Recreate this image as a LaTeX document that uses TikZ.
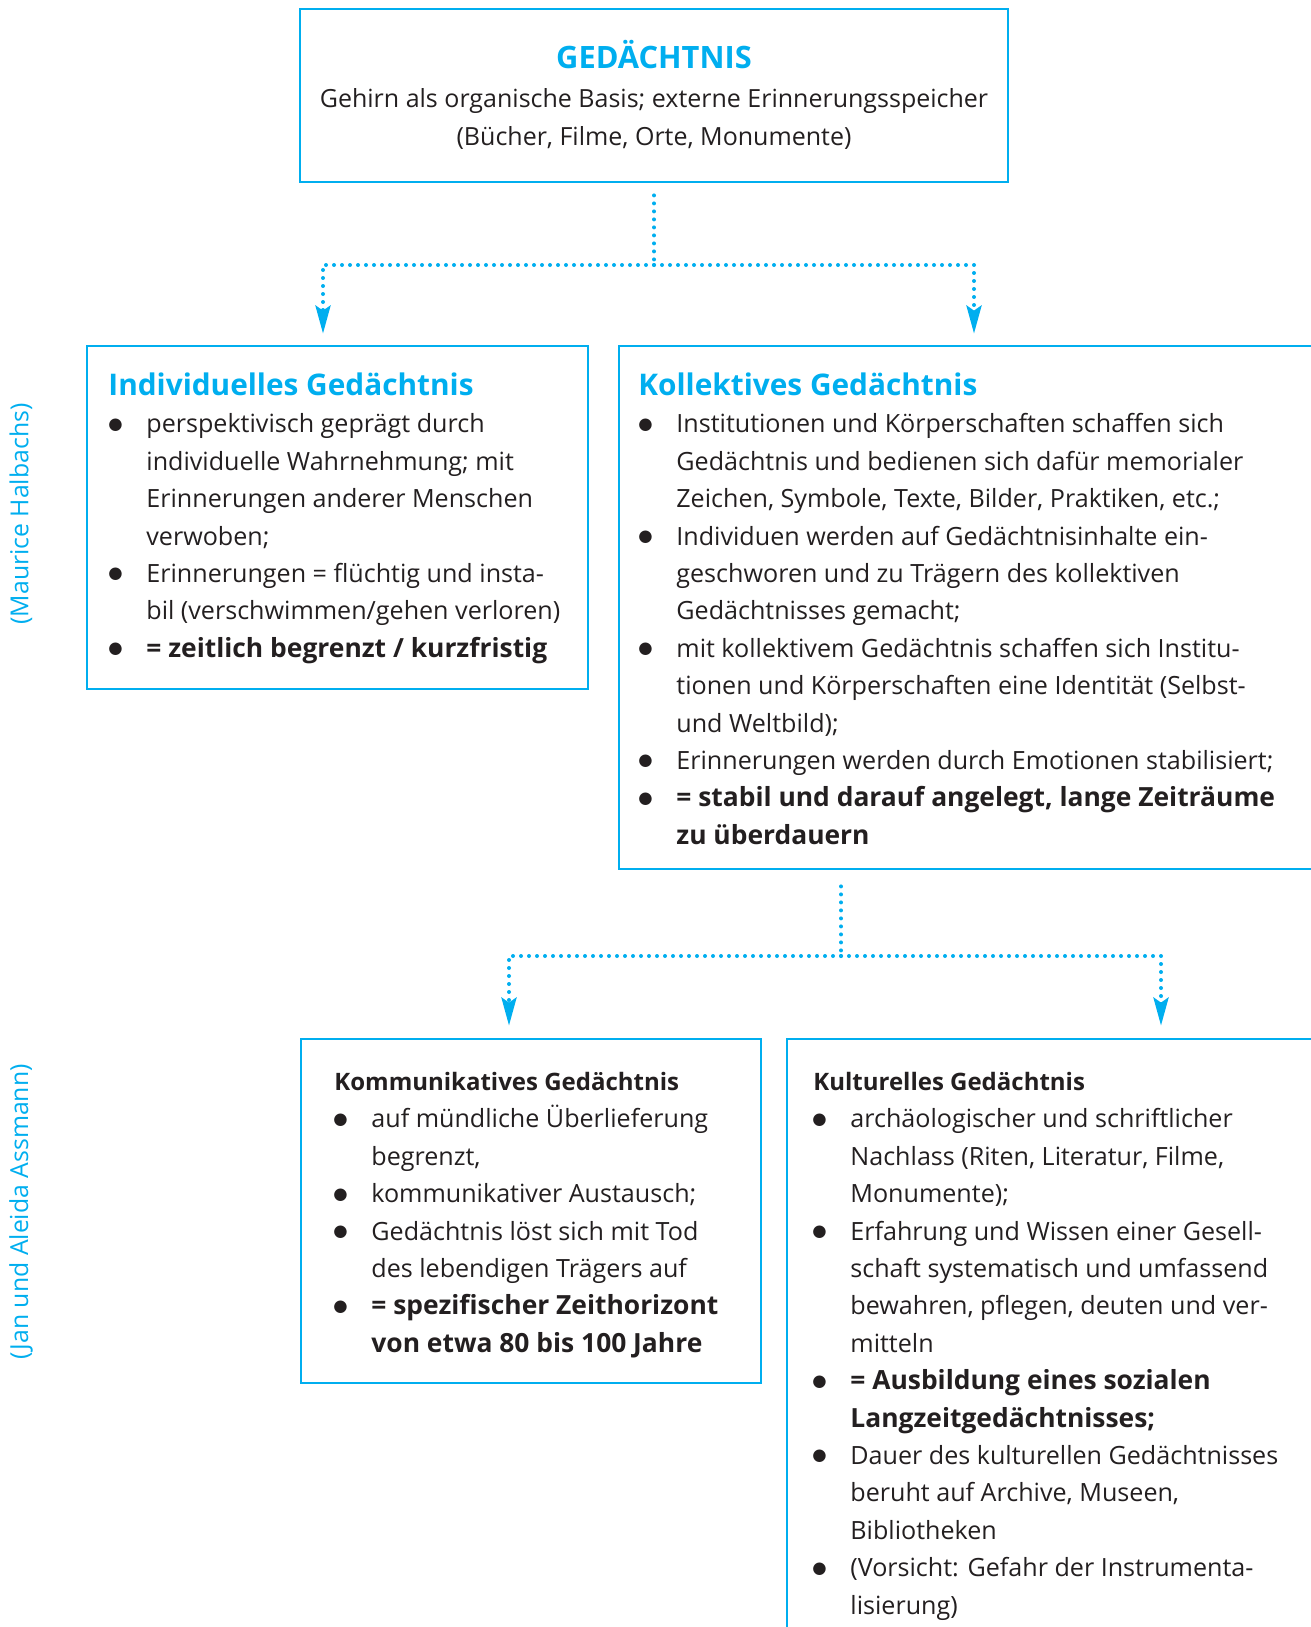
\documentclass[tikz,border=0pt]{standalone}
\usepackage{fontspec}
\setmainfont{Open Sans}
\newfontfamily\dotfont{DejaVu Sans}
\usepackage{array}
\usetikzlibrary{arrows.meta,fit}

\definecolor{gblue}{RGB}{0,174,239}
\definecolor{ink}{RGB}{35,31,32}

\newcommand{\bul}{\hspace*{-4pt}\raisebox{1.8pt}{\dotfont\fontsize{8.2pt}{8.2pt}\selectfont ●}}
\newcommand{\bld}[1]{{\bfseries\fontsize{13.2pt}{18.7pt}\selectfont #1}}
\newcommand{\bluehead}[1]{\multicolumn{2}{@{}l@{}}{\hspace*{-4pt}\color{gblue}\bfseries\fontsize{14.9pt}{18.7pt}\selectfont #1}}
\newcommand{\inkhead}[1]{\multicolumn{2}{@{}l@{}}{\hspace*{-3.5pt}\bfseries\fontsize{12pt}{18.7pt}\selectfont #1}}
\newenvironment{plist}{\begin{tabular}{@{}p{15pt}@{}l@{}}}{\end{tabular}}

\tikzset{
  box/.style={draw=gblue, line width=1.4pt, inner sep=0pt},
  dotline/.style={gblue, line width=2pt, line cap=round, dash pattern=on 0pt off 4pt},
  headarrow/.style={-{Stealth[length=14pt,width=7.5pt,inset=2.5pt]}},
  body/.style={anchor=north west, inner sep=0pt, text=ink, font=\fontsize{12.55pt}{18.7pt}\selectfont},
  side/.style={rotate=90, text=gblue, font=\fontsize{12.4pt}{14pt}\selectfont},
}

\begin{document}
\begin{tikzpicture}[x=0.5pt, y=-0.5pt]
  \useasboundingbox (0,0) rectangle (1311,1627);
  \clip (0,0) rectangle (1311,1627);

  % boxes
  \node[box, fit={(300,9) (1008,182)}] (gedaechtnis) {};
  \node[box, fit={(87,346) (588,689)}] (individuell) {};
  \node[box, fit={(619,346) (1340,869)}] (kollektiv) {};
  \node[box, fit={(301,1039) (761,1383)}] (kommunikativ) {};
  \node[box, fit={(787,1039) (1340,1660)}] (kulturell) {};

  % side labels
  \node[side] (halbwachs) at (21,514) {(Maurice Halbachs)};
  \node[side] (assmann) at (21,1212) {(Jan und Aleida Assmann)};

  % Box 1
  \node[align=center, inner sep=0pt, text=ink, font=\fontsize{12.5pt}{19.25pt}\selectfont] (t1) at (654,95)
    {{\color{gblue}\bfseries\fontsize{15.4pt}{19.25pt}\selectfont GEDÄCHTNIS}\\
     Gehirn als organische Basis; externe Erinnerungsspeicher\\
     (Bücher, Filme, Orte, Monumente)};

  % Box 2
  \node[body] (t2) at (116,369) {\begin{plist}
    \bluehead{Individuelles Gedächtnis}\\
    \bul & perspektivisch geprägt durch\\
         & individuelle Wahrnehmung; mit\\
         & Erinnerungen anderer Menschen\\
         & verwoben;\\
    \bul & Erinnerungen = flüchtig und insta-\\
         & bil (verschwimmen/gehen verloren)\\
    \bul & \bld{= zeitlich begrenzt / kurzfristig}\\
  \end{plist}};

  % Box 3
  \node[body] (t3) at (646,369) {\begin{plist}
    \bluehead{Kollektives Gedächtnis}\\
    \bul & Institutionen und Körperschaften schaffen sich\\
         & Gedächtnis und bedienen sich dafür memorialer\\
         & Zeichen, Symbole, Texte, Bilder, Praktiken, etc.;\\
    \bul & Individuen werden auf Gedächtnisinhalte ein-\\
         & geschworen und zu Trägern des kollektiven\\
         & Gedächtnisses gemacht;\\
    \bul & mit kollektivem Gedächtnis schaffen sich Institu-\\
         & tionen und Körperschaften eine Identität (Selbst-\\
         & und Weltbild);\\
    \bul & Erinnerungen werden durch Emotionen stabilisiert;\\
    \bul & \bld{= stabil und darauf angelegt, lange Zeiträume}\\
         & \bld{zu überdauern}\\
  \end{plist}};

  % Box 4
  \node[body] (t4) at (341,1064) {\begin{plist}
    \inkhead{Kommunikatives Gedächtnis}\\
    \bul & auf mündliche Überlieferung\\
         & begrenzt,\\
    \bul & kommunikativer Austausch;\\
    \bul & Gedächtnis löst sich mit Tod\\
         & des lebendigen Trägers auf\\
    \bul & \bld{= spezifischer Zeithorizont}\\
         & \bld{von etwa 80 bis 100 Jahre}\\
  \end{plist}};

  % Box 5
  \node[body] (t5) at (820,1064) {\begin{plist}
    \inkhead{Kulturelles Gedächtnis}\\
    \bul & archäologischer und schriftlicher\\
         & Nachlass (Riten, Literatur, Filme,\\
         & Monumente);\\
    \bul & Erfahrung und Wissen einer Gesell-\\
         & schaft systematisch und umfassend\\
         & bewahren, pflegen, deuten und ver-\\
         & mitteln\\
    \bul & \bld{= Ausbildung eines sozialen}\\
         & \bld{Langzeitgedächtnisses;}\\
    \bul & Dauer des kulturellen Gedächtnisses\\
         & beruht auf Archive, Museen,\\
         & Bibliotheken\\
    \bul & (Vorsicht: Gefahr der Instrumenta-\\
         & lisierung)\\
  \end{plist}};

  % connectors
  \coordinate (fork1) at (654,265);
  \coordinate (fork2) at (841,956);
  \draw[dotline, shorten <=6pt] (gedaechtnis.south) -- (fork1);
  \draw[dotline, headarrow, shorten >=5.5pt] (fork1) -| (323,0 |- individuell.north);
  \draw[dotline, headarrow, shorten >=5.5pt] (fork1) -| (974,0 |- kollektiv.north);
  \draw[dotline, shorten <=8pt] (kollektiv.south -| fork2) -- (fork2);
  \draw[dotline, headarrow, shorten >=6pt] (fork2) -| (509,0 |- kommunikativ.north);
  \draw[dotline, headarrow, shorten >=6pt] (fork2) -| (1161,0 |- kulturell.north);
\end{tikzpicture}
\end{document}
